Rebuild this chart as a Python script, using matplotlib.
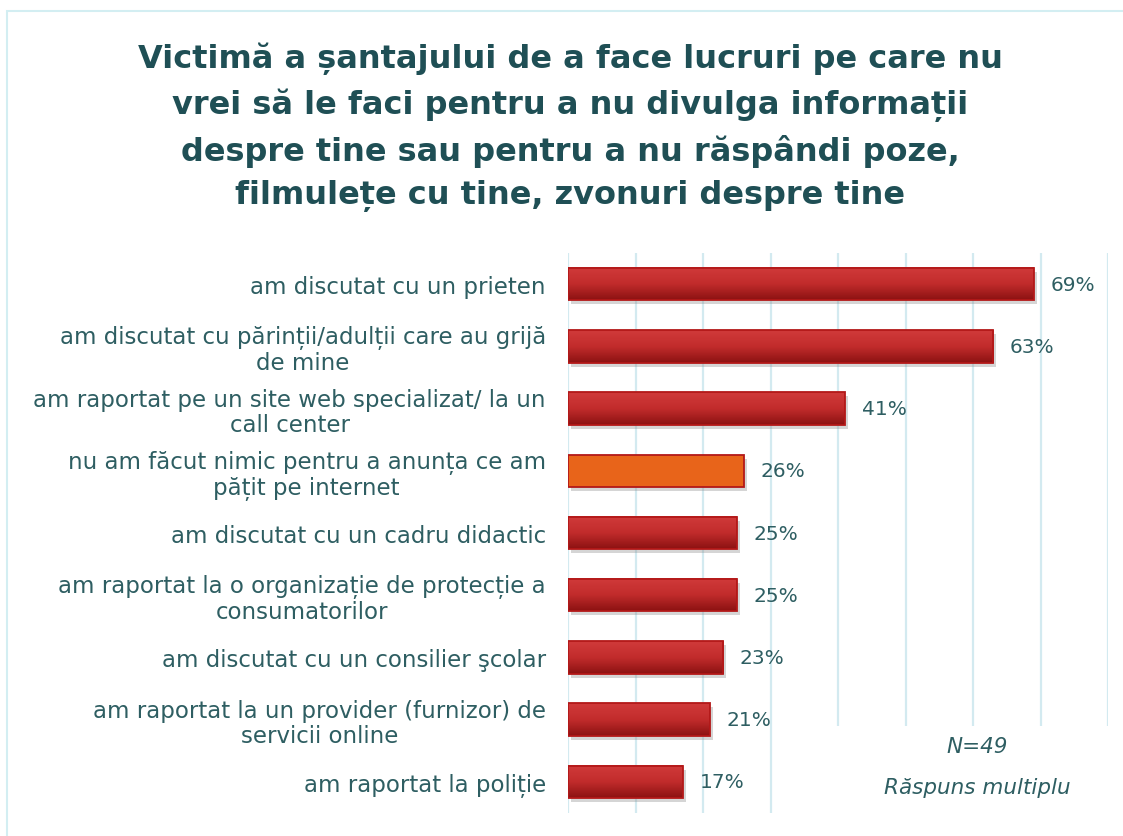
import matplotlib.pyplot as plt
import numpy as np
from matplotlib.colors import LinearSegmentedColormap
from matplotlib import transforms

# date
categorii = [
    "am discutat cu un prieten",
    "am discutat cu părinții/adulții care au grijă\nde mine",
    "am raportat pe un site web specializat/ la un\ncall center",
    "nu am făcut nimic pentru a anunța ce am\npățit pe internet",
    "am discutat cu un cadru didactic",
    "am raportat la o organizație de protecție a\nconsumatorilor",
    "am discutat cu un consilier şcolar",
    "am raportat la un provider (furnizor) de\nservicii online",
    "am raportat la poliție",
]
valori = [69, 63, 41, 26, 25, 25, 23, 21, 17]
evidentiat = [False, False, False, True, False, False, False, False, False]

titlu = ("Victimă a șantajului de a face lucruri pe care nu\n"
         "vrei să le faci pentru a nu divulga informații\n"
         "despre tine sau pentru a nu răspândi poze,\n"
         "filmulețe cu tine, zvonuri despre tine")

text_col = "#2E5E62"
titlu_col = "#1F4F55"
grid_col = "#D3EAF0"

plt.rcParams['font.family'] = ['DejaVu Sans']

fig = plt.figure(figsize=(11.23, 8.37), dpi=100)
ax = fig.add_axes([0.5058, 0.0275, 0.481, 0.669])

# cadru exterior
fig.patches.append(plt.Rectangle((7 / 1123, -0.1), 1.2, 1 - 12 / 837 + 0.1,
                                 transform=fig.transFigure, fill=False,
                                 edgecolor="#D3EEF2", linewidth=1.5))

fig.text(0.508, 0.848, titlu, ha='center', va='center', fontsize=23,
         fontweight='bold', color=titlu_col, linespacing=1.5)

y = np.arange(len(categorii))
h = 0.52

rosu = LinearSegmentedColormap.from_list("r", ["#D03A3A", "#C22C2C", "#8C1212"])

# umbra
umbra = transforms.offset_copy(ax.transData, fig=fig, x=3, y=-4, units='dots')
ax.barh(y, valori, height=h, color='#888888', alpha=0.35, transform=umbra, zorder=2)

bare = ax.barh(y, valori, height=h, color='none', edgecolor='#B31818',
               linewidth=1.3, zorder=4)

grad = np.linspace(0, 1, 64).reshape(-1, 1)
for b, v, ev in zip(bare, valori, evidentiat):
    x0, y0 = b.get_x(), b.get_y()
    if ev:
        ax.add_patch(plt.Rectangle((x0, y0), v, h, facecolor='#E8641A',
                                   edgecolor='none', zorder=3))
    else:
        ax.imshow(grad, cmap=rosu, aspect='auto', origin='upper',
                  extent=(x0, x0 + v, y0 + h, y0), zorder=3)

for yi, v in zip(y, valori):
    ax.annotate(f"{v}%", (v, yi), xytext=(12, 0), textcoords='offset points',
                va='center', ha='left', fontsize=14.5, color=text_col)

ax.set_xlim(0, 80)
ax.set_ylim(len(categorii) - 0.5, -0.5)
ax.set_xticks(np.arange(0, 81, 10))
ax.xaxis.grid(True, color=grid_col, linewidth=1.6, zorder=0)
ax.set_axisbelow(True)
ax.tick_params(axis='x', length=0, labelbottom=False)
ax.set_yticks(y)
ax.set_yticklabels(categorii, fontsize=16.5, color=text_col,
                   multialignment='center', linespacing=1.1)
ax.tick_params(axis='y', length=0, pad=16)
for s in ax.spines.values():
    s.set_visible(False)

# caseta N
ax.add_patch(plt.Rectangle((0.39, -0.05), 0.7, 0.205, transform=ax.transAxes,
                           facecolor='white', edgecolor='none', zorder=1,
                           clip_on=False))
ax.text(0.757, 0.12, "N=49", transform=ax.transAxes, ha='center', va='center',
        fontsize=15.5, style='italic', color=text_col, zorder=5)
ax.text(0.757, 0.046, "Răspuns multiplu", transform=ax.transAxes, ha='center',
        va='center', fontsize=15.5, style='italic', color=text_col, zorder=5)

fig.savefig("out.png", dpi=100)
